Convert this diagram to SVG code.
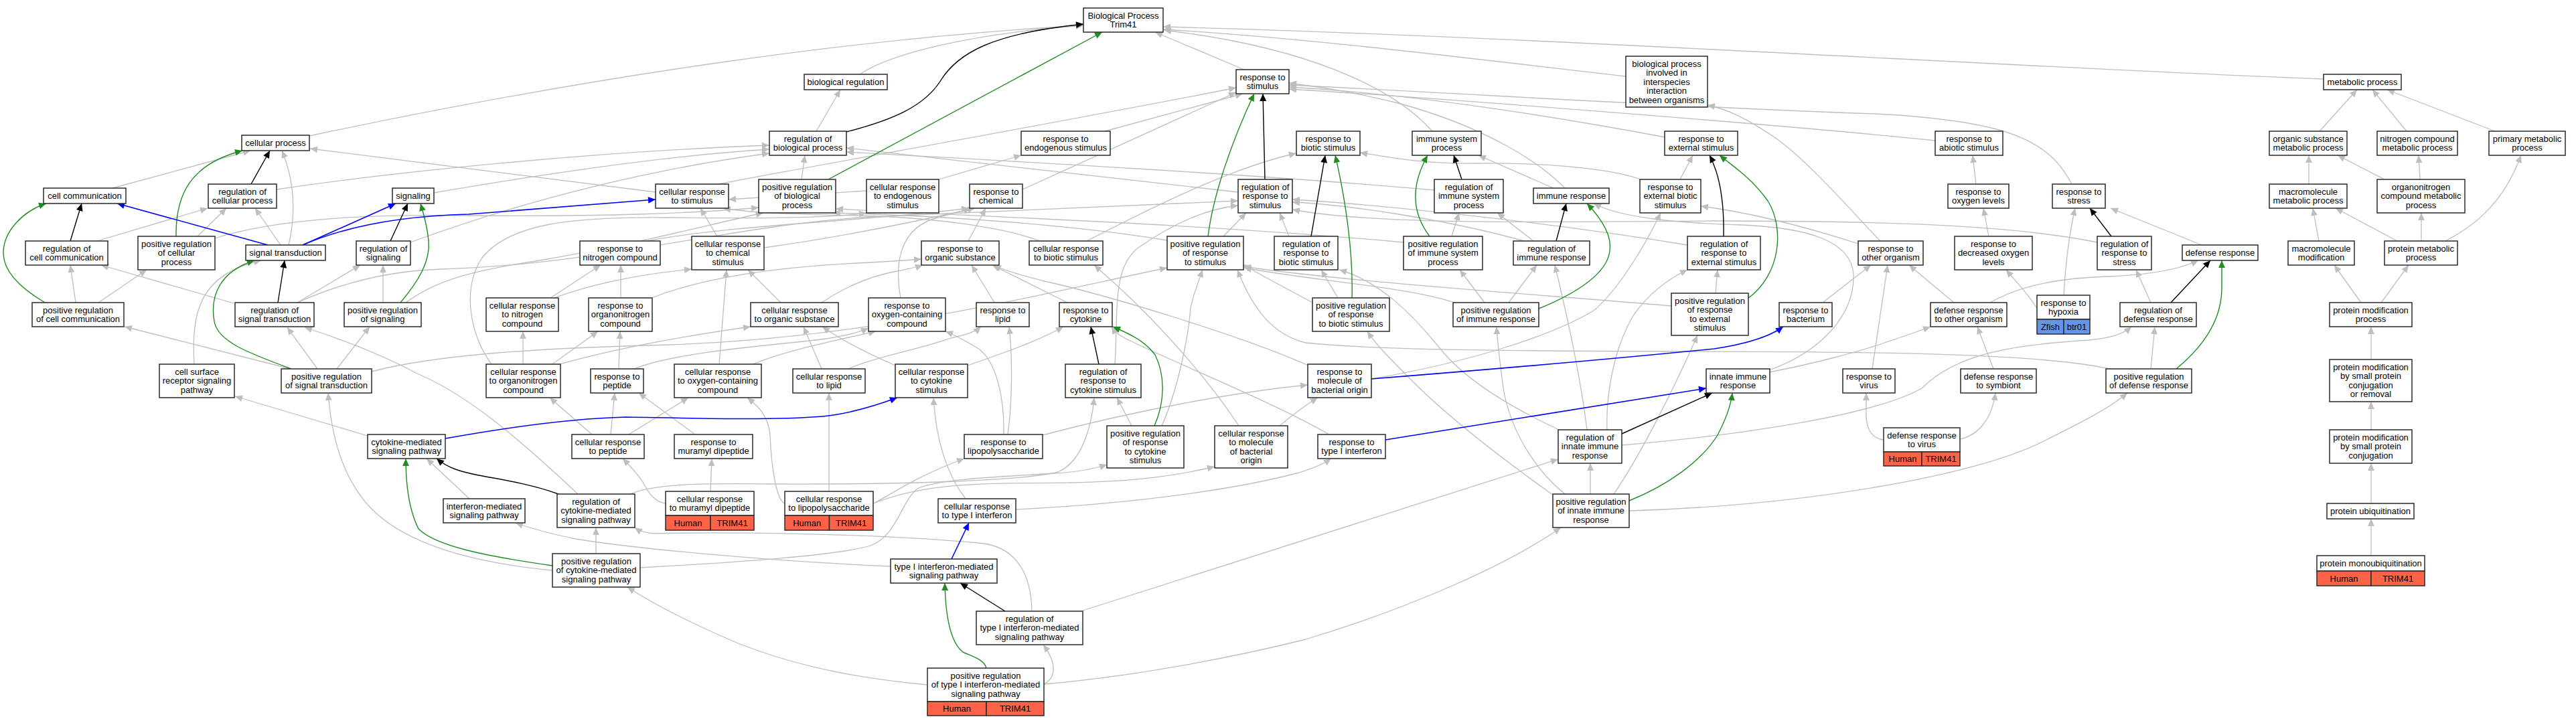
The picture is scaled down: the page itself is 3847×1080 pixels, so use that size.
<svg xmlns="http://www.w3.org/2000/svg" width="3847" height="1080" viewBox="0 0 3847 1080">
<style>
.n rect{fill:#fff;stroke:#2a2a2a;stroke-width:1.5}
.n rect.hu{fill:#ff6347}
.n rect.zf{fill:#6495ed}
text{font-family:"Liberation Sans",Arial,sans-serif;font-size:13px;text-anchor:middle;fill:#000}
.e path{fill:none}
.g{stroke:#bebebe;stroke-width:1.3;marker-end:url(#mg)}
.k{stroke:#000;stroke-width:1.4;marker-end:url(#mk)}
.gr{stroke:#228b22;stroke-width:1.4;marker-end:url(#mgr)}
.b{stroke:#0000ff;stroke-width:1.6;marker-end:url(#mb)}
</style>
<defs>
<marker id="mg" viewBox="0 0 10 10" refX="10" refY="5" markerWidth="13" markerHeight="11" markerUnits="userSpaceOnUse" orient="auto"><path d="M0,0.5 L10,5 L0,9.5 z" fill="#bebebe"/></marker>
<marker id="mk" viewBox="0 0 10 10" refX="10" refY="5" markerWidth="13" markerHeight="11" markerUnits="userSpaceOnUse" orient="auto"><path d="M0,0.5 L10,5 L0,9.5 z" fill="#000"/></marker>
<marker id="mgr" viewBox="0 0 10 10" refX="10" refY="5" markerWidth="13" markerHeight="11" markerUnits="userSpaceOnUse" orient="auto"><path d="M0,0.5 L10,5 L0,9.5 z" fill="#228b22"/></marker>
<marker id="mb" viewBox="0 0 10 10" refX="10" refY="5" markerWidth="13" markerHeight="11" markerUnits="userSpaceOnUse" orient="auto"><path d="M0,0.5 L10,5 L0,9.5 z" fill="#0000ff"/></marker>
</defs>
<rect width="3847" height="1080" fill="#fff"/>
<g id="connectors" class="e">
<path class="g" d="M1284,111 C1330,80 1450,50 1618,38"/>
<path class="g" d="M3470,118 C3000,100 2300,55 1737,40"/>
<path class="g" d="M1858,104 L1725,48"/>
<path class="g" d="M2428,114 C2200,88 1950,56 1737,44"/>
<path class="g" d="M462,203 C900,110 1300,55 1618,38"/>
<path class="g" d="M2139,196 C2080,130 1950,70 1738,45"/>
<path class="g" d="M1219,196 L1255,134"/>
<path class="g" d="M168,281 L374,225"/>
<path class="g" d="M295,353 L338,311"/>
<path class="g" d="M320,356 C420,325 560,320 700,322 C900,324 1050,318 1133,310"/>
<path class="g" d="M1197,268 L1202,232"/>
<path class="g" d="M979,287 L463,222"/>
<path class="g" d="M1073,275 C1200,250 1600,180 1846,131"/>
<path class="g" d="M431,366 C442,320 440,270 421,225"/>
<path class="g" d="M419,366 L381,311"/>
<path class="g" d="M648,288 C800,262 1000,232 1149,223"/>
<path class="g" d="M413,283 C600,255 900,226 1149,217"/>
<path class="g" d="M145,360 L310,311"/>
<path class="g" d="M613,362 C700,330 900,262 1149,229"/>
<path class="g" d="M113,452 L105,396"/>
<path class="g" d="M147,452 L219,403"/>
<path class="g" d="M572,452 L572,396"/>
<path class="g" d="M606,452 C650,420 700,405 800,390 C950,365 1060,335 1140,318"/>
<path class="g" d="M349,453 L151,396"/>
<path class="g" d="M444,452 L538,396"/>
<path class="g" d="M444,452 C520,418 590,404 660,402 C900,395 1100,335 1300,324 C1500,314 1700,305 1849,300"/>
<path class="g" d="M474,551 L429,489"/>
<path class="g" d="M434,551 L186,488"/>
<path class="g" d="M503,551 L552,488"/>
<path class="g" d="M555,555 C650,530 800,520 1000,515 C1300,505 1550,440 1743,400"/>
<path class="g" d="M290,544 C286,470 295,410 390,389"/>
<path class="g" d="M549,651 L351,592"/>
<path class="g" d="M863,738 C780,660 700,590 623,558 C580,535 520,510 455,489"/>
<path class="g" d="M941,738 C980,722 1050,722 1150,723 C1350,724 1530,718 1580,705 C1615,690 1630,640 1634,594"/>
<path class="g" d="M701,745 L637,685"/>
<path class="g" d="M890,827 L890,788"/>
<path class="g" d="M825,852 C700,840 600,810 550,755 C510,710 495,650 490,587"/>
<path class="g" d="M956,848 C1100,840 1250,830 1300,815 C1340,800 1345,750 1370,730 C1400,715 1500,712 1575,707 C1610,705 1635,700 1653,694"/>
<path class="g" d="M1330,846 C1150,838 950,820 860,805 C820,797 795,790 770,781"/>
<path class="g" d="M1541,913 C1540,860 1520,820 1470,812 C1300,795 1050,795 980,797 C965,797 955,793 948,788"/>
<path class="g" d="M1617,912 L2327,686"/>
<path class="g" d="M1559,1022 C1578,1012 1578,990 1558,963"/>
<path class="g" d="M1385,1023 C1300,1015 1200,1000 1100,960 C1030,930 980,905 937,877"/>
<path class="g" d="M1559,1022 C1700,1010 1850,980 1950,955 C2100,910 2250,845 2331,788"/>
<path class="g" d="M1442,745 C1415,710 1398,660 1394,594"/>
<path class="g" d="M1517,761 C1700,752 1850,730 1940,706 C1960,700 1978,692 1988,685"/>
<path class="g" d="M1985,649 C1900,600 1750,540 1690,510 C1672,502 1665,496 1660,488"/>
<path class="g" d="M1954,546 C1850,500 1650,440 1560,420 C1520,410 1500,404 1484,396"/>
<path class="g" d="M2048,566 C2200,540 2320,500 2380,464 C2420,430 2460,360 2480,318"/>
<path class="g" d="M1911,636 C1930,620 1950,605 1968,594"/>
<path class="g" d="M1850,636 C1800,560 1720,470 1634,396"/>
<path class="g" d="M1304,752 C1330,740 1360,715 1440,685"/>
<path class="g" d="M1304,752 C1380,722 1450,722 1600,721 C1700,719 1760,710 1814,697"/>
<path class="g" d="M1238,734 L1238,587"/>
<path class="g" d="M1172,752 C1160,748 1152,700 1150,650 C1148,620 1130,605 1116,594"/>
<path class="g" d="M1499,649 C1500,600 1490,540 1460,520 C1440,508 1425,500 1412,495"/>
<path class="g" d="M1505,649 C1512,600 1512,530 1507,488"/>
<path class="g" d="M1557,650 C1700,612 1850,585 1953,575"/>
<path class="g" d="M1061,734 L1063,685"/>
<path class="g" d="M994,752 C980,750 970,740 960,720 C950,705 940,695 930,685"/>
<path class="g" d="M1038,649 L954,587"/>
<path class="g" d="M884,649 L821,594"/>
<path class="g" d="M912,649 L918,587"/>
<path class="g" d="M939,649 L1028,594"/>
<path class="g" d="M781,544 L781,495"/>
<path class="g" d="M822,546 L893,495"/>
<path class="g" d="M822,548 C900,525 1000,505 1121,488"/>
<path class="g" d="M737,548 C700,500 690,430 720,385 C760,335 850,323 1000,325 C1150,327 1250,325 1294,318"/>
<path class="g" d="M924,551 L926,495"/>
<path class="g" d="M947,551 C1000,530 1100,520 1200,510 C1250,505 1280,498 1297,490"/>
<path class="g" d="M1074,544 L1085,403"/>
<path class="g" d="M1124,544 C1180,522 1250,508 1308,495"/>
<path class="g" d="M1227,551 L1200,488"/>
<path class="g" d="M1267,551 C1300,535 1380,520 1420,505 C1440,500 1455,497 1465,488"/>
<path class="g" d="M1337,546 C1300,530 1260,510 1228,488"/>
<path class="g" d="M1445,546 C1490,530 1550,510 1588,488"/>
<path class="g" d="M1345,445 C1335,390 1345,340 1400,325 C1420,320 1435,316 1450,311"/>
<path class="g" d="M1485,452 L1451,396"/>
<path class="g" d="M1594,452 L1482,396"/>
<path class="g" d="M927,445 L927,396"/>
<path class="g" d="M973,445 C1050,415 1150,400 1280,393 C1320,391 1350,389 1376,387"/>
<path class="g" d="M1227,452 C1260,430 1300,412 1340,405 C1355,402 1366,400 1378,396"/>
<path class="g" d="M1166,452 L1117,403"/>
<path class="g" d="M822,445 L897,396"/>
<path class="g" d="M822,447 C880,425 950,410 1033,402"/>
<path class="g" d="M966,360 C1100,335 1300,330 1447,311"/>
<path class="g" d="M1141,370 C1250,355 1350,335 1456,311"/>
<path class="g" d="M1071,353 L1046,311"/>
<path class="g" d="M1446,360 L1472,311"/>
<path class="g" d="M1294,285 L1088,298"/>
<path class="g" d="M1402,268 L1525,232"/>
<path class="g" d="M1650,196 L1856,140"/>
<path class="g" d="M1527,283 L1846,138"/>
<path class="g" d="M1553,360 C1500,340 1400,325 1280,322 C1180,320 1120,318 1080,311"/>
<path class="g" d="M1623,360 C1720,310 1840,250 1936,229"/>
<path class="g" d="M1849,287 L1264,221"/>
<path class="g" d="M2142,284 C1900,262 1500,240 1264,227"/>
<path class="g" d="M1827,353 L1861,318"/>
<path class="g" d="M1743,359 C1600,335 1400,322 1244,318"/>
<path class="g" d="M2096,362 C1800,335 1500,325 1248,312"/>
<path class="g" d="M2168,353 L2179,318"/>
<path class="g" d="M2290,360 L2236,318"/>
<path class="g" d="M2276,360 C2150,325 2000,305 1930,302"/>
<path class="g" d="M2253,452 L2295,396"/>
<path class="g" d="M2217,452 L2180,403"/>
<path class="g" d="M2172,452 C2100,428 1950,418 1858,400"/>
<path class="g" d="M1925,353 L1911,318"/>
<path class="g" d="M1998,445 L1973,403"/>
<path class="g" d="M1960,452 C1920,430 1880,410 1857,395"/>
<path class="g" d="M2330,643 C2260,610 2190,570 2150,520 C2110,470 2060,420 2000,403"/>
<path class="g" d="M2370,642 C2360,560 2340,470 2322,396"/>
<path class="g" d="M2400,642 C2398,590 2410,520 2440,470 C2465,435 2495,415 2520,403"/>
<path class="g" d="M2422,665 C2600,650 2800,620 2870,580 C2920,530 3000,515 3120,508 C3150,505 3170,500 3183,488"/>
<path class="g" d="M2375,738 L2375,692"/>
<path class="g" d="M2337,738 C2290,700 2255,640 2245,580 C2240,540 2236,510 2235,488"/>
<path class="g" d="M2320,740 C2250,690 2170,630 2110,570 C2080,540 2055,515 2042,495"/>
<path class="g" d="M2410,738 C2450,680 2500,580 2535,501"/>
<path class="g" d="M2433,763 C2700,755 2950,710 3050,660 C3110,630 3150,610 3177,587"/>
<path class="g" d="M2642,553 C2720,525 2770,470 2768,410 C2765,360 2700,340 2600,336 C2500,333 2420,325 2380,304"/>
<path class="g" d="M2642,556 C2700,545 2780,525 2820,510 C2845,502 2862,496 2883,488"/>
<path class="g" d="M2520,366 C2300,330 2050,305 1930,298"/>
<path class="g" d="M2562,438 L2565,403"/>
<path class="g" d="M2496,457 C2300,440 2000,420 1857,398"/>
<path class="g" d="M2509,268 L2528,232"/>
<path class="g" d="M2450,268 C2400,250 2300,243 2200,244 C2130,245 2080,236 2031,228"/>
<path class="g" d="M2487,205 C2300,170 2100,140 1925,130"/>
<path class="g" d="M2890,210 C2700,190 2200,150 1925,133"/>
<path class="g" d="M3094,275 C3060,210 3000,180 2800,170 C2500,160 2200,140 1925,127"/>
<path class="g" d="M2337,281 C2300,243 2220,190 2088,154 C2020,137 1970,130 1925,124"/>
<path class="g" d="M2320,281 L2208,232"/>
<path class="g" d="M2808,360 C2760,310 2700,240 2650,205 C2610,178 2580,163 2550,157"/>
<path class="g" d="M2775,364 C2700,340 2620,318 2540,308"/>
<path class="g" d="M2722,452 L2794,396"/>
<path class="g" d="M2796,551 L2819,396"/>
<path class="g" d="M2918,452 L2851,396"/>
<path class="g" d="M2972,452 C3020,425 3080,415 3150,413 C3220,410 3260,400 3283,389"/>
<path class="g" d="M2977,551 L2953,488"/>
<path class="g" d="M2813,657 C2795,655 2787,640 2787,620 L2787,587"/>
<path class="g" d="M2927,656 C2955,650 2975,625 2980,587"/>
<path class="g" d="M2970,353 L2962,311"/>
<path class="g" d="M2951,275 L2946,232"/>
<path class="g" d="M3042,461 C3030,440 3010,420 2996,403"/>
<path class="g" d="M3082,441 C3085,390 3090,350 3099,311"/>
<path class="g" d="M3288,366 L3152,311"/>
<path class="g" d="M3132,362 C3000,335 2800,330 2560,330 C2300,332 2050,336 1930,313"/>
<path class="g" d="M3212,452 L3190,403"/>
<path class="g" d="M3212,551 L3218,488"/>
<path class="g" d="M3150,551 C3050,528 2800,525 2500,525 C2200,524 2050,522 1950,512 C1900,500 1870,460 1848,403"/>
<path class="g" d="M3464,196 L3520,134"/>
<path class="g" d="M3594,196 L3543,134"/>
<path class="g" d="M3726,196 L3565,134"/>
<path class="g" d="M3448,275 L3448,232"/>
<path class="g" d="M3561,268 L3491,232"/>
<path class="g" d="M3614,268 L3612,232"/>
<path class="g" d="M3652,360 C3700,335 3740,300 3765,232"/>
<path class="g" d="M3463,360 L3454,311"/>
<path class="g" d="M3580,360 L3488,311"/>
<path class="g" d="M3616,360 L3616,318"/>
<path class="g" d="M3526,452 L3486,396"/>
<path class="g" d="M3556,452 L3597,396"/>
<path class="g" d="M3541,537 L3541,488"/>
<path class="g" d="M3541,642 L3541,600"/>
<path class="g" d="M3541,752 L3541,692"/>
<path class="g" d="M3541,830 L3541,775"/>
<path class="g" d="M1690,636 L1668,594"/>
<path class="g" d="M1735,636 C1760,580 1775,500 1778,460 C1782,440 1790,420 1796,403"/>
<path class="g" d="M1665,544 C1670,470 1660,400 1700,370 C1750,335 1800,312 1849,307"/>
<path class="k" d="M1264,197 C1330,180 1380,160 1405,120 C1430,80 1480,50 1618,36"/>
<path class="k" d="M375,275 L403,225"/>
<path class="k" d="M105,360 L122,304"/>
<path class="k" d="M583,360 L609,304"/>
<path class="k" d="M415,452 L425,389"/>
<path class="k" d="M834,738 C790,722 740,715 715,710 C690,705 670,700 652,685"/>
<path class="k" d="M1501,913 L1434,871"/>
<path class="k" d="M1889,268 L1886,140"/>
<path class="k" d="M1958,353 L1979,232"/>
<path class="k" d="M2183,268 L2171,232"/>
<path class="k" d="M2324,360 L2339,304"/>
<path class="k" d="M2574,353 C2575,300 2568,260 2553,232"/>
<path class="k" d="M1641,544 L1629,488"/>
<path class="k" d="M2422,648 L2557,587"/>
<path class="k" d="M3153,353 L3121,311"/>
<path class="k" d="M3242,452 L3301,389"/>
<path class="gr" d="M1237,268 L1646,48"/>
<path class="gr" d="M263,353 C262,290 285,245 362,225"/>
<path class="gr" d="M67,452 C30,430 5,405 5,378 C5,345 35,315 69,304"/>
<path class="gr" d="M598,452 C625,420 643,390 640,360 C638,335 632,318 628,304"/>
<path class="gr" d="M435,551 C370,527 325,510 320,480 C313,440 330,405 380,389"/>
<path class="gr" d="M825,845 C720,830 650,815 625,790 C610,760 606,720 606,685"/>
<path class="gr" d="M1473,998 C1470,985 1450,980 1438,974 C1420,960 1412,920 1411,871"/>
<path class="gr" d="M1804,353 C1812,290 1840,210 1873,140"/>
<path class="gr" d="M2019,445 C2021,380 2010,300 1994,232"/>
<path class="gr" d="M2135,353 C2110,320 2105,280 2132,232"/>
<path class="gr" d="M2298,461 C2350,440 2400,410 2404,375 C2408,350 2390,325 2370,304"/>
<path class="gr" d="M2610,446 C2660,410 2665,340 2640,300 C2615,265 2590,250 2568,232"/>
<path class="gr" d="M1724,636 C1740,600 1740,560 1725,530 C1710,510 1690,500 1662,488"/>
<path class="gr" d="M2433,748 C2490,725 2540,690 2565,650 C2578,625 2585,605 2587,587"/>
<path class="gr" d="M3250,551 C3300,510 3318,470 3318,430 L3318,389"/>
<path class="b" d="M400,366 L175,304"/>
<path class="b" d="M452,366 L591,304"/>
<path class="b" d="M452,366 C530,332 620,322 700,320 L979,298"/>
<path class="b" d="M665,655 C760,638 850,625 935,623 C1050,625 1150,628 1229,622 C1270,618 1310,605 1340,594"/>
<path class="b" d="M1421,835 L1447,781"/>
<path class="b" d="M2069,657 L2548,580"/>
<path class="b" d="M2048,566 C2250,550 2450,532 2560,521 C2600,515 2640,505 2663,488"/>
</g>
<g id="n1" class="n"><rect x="1618" y="12" width="119" height="36"/><text><tspan x="1677.5" y="28">Biological Process</tspan><tspan x="1677.5" y="41.4">Trim41</tspan></text></g>
<g id="n2" class="n"><rect x="1201" y="111" width="124" height="23"/><text><tspan x="1263" y="127">biological regulation</tspan></text></g>
<g id="n3" class="n"><rect x="3470" y="111" width="116" height="23"/><text><tspan x="3528" y="127">metabolic process</tspan></text></g>
<g id="n4" class="n"><rect x="1846" y="104" width="79" height="36"/><text><tspan x="1885.5" y="120">response to</tspan><tspan x="1885.5" y="133.4">stimulus</tspan></text></g>
<g id="n5" class="n"><rect x="2428" y="84" width="122" height="76"/><text><tspan x="2489" y="100">biological process</tspan><tspan x="2489" y="113.4">involved in</tspan><tspan x="2489" y="126.8">interspecies</tspan><tspan x="2489" y="140.2">interaction</tspan><tspan x="2489" y="153.6">between organisms</tspan></text></g>
<g id="n6" class="n"><rect x="361" y="202" width="101" height="23"/><text><tspan x="411.5" y="218">cellular process</tspan></text></g>
<g id="n7" class="n"><rect x="1149" y="196" width="115" height="36"/><text><tspan x="1206.5" y="212">regulation of</tspan><tspan x="1206.5" y="225.4">biological process</tspan></text></g>
<g id="n8" class="n"><rect x="1525" y="196" width="133" height="36"/><text><tspan x="1591.5" y="212">response to</tspan><tspan x="1591.5" y="225.4">endogenous stimulus</tspan></text></g>
<g id="n9" class="n"><rect x="1936" y="196" width="95" height="36"/><text><tspan x="1983.5" y="212">response to</tspan><tspan x="1983.5" y="225.4">biotic stimulus</tspan></text></g>
<g id="n10" class="n"><rect x="2109" y="196" width="103" height="36"/><text><tspan x="2160.5" y="212">immune system</tspan><tspan x="2160.5" y="225.4">process</tspan></text></g>
<g id="n11" class="n"><rect x="2486" y="196" width="109" height="36"/><text><tspan x="2540.5" y="212">response to</tspan><tspan x="2540.5" y="225.4">external stimulus</tspan></text></g>
<g id="n12" class="n"><rect x="2890" y="196" width="101" height="36"/><text><tspan x="2940.5" y="212">response to</tspan><tspan x="2940.5" y="225.4">abiotic stimulus</tspan></text></g>
<g id="n13" class="n"><rect x="3389" y="196" width="116" height="36"/><text><tspan x="3447" y="212">organic substance</tspan><tspan x="3447" y="225.4">metabolic process</tspan></text></g>
<g id="n14" class="n"><rect x="3550" y="196" width="120" height="36"/><text><tspan x="3610" y="212">nitrogen compound</tspan><tspan x="3610" y="225.4">metabolic process</tspan></text></g>
<g id="n15" class="n"><rect x="3717" y="196" width="114" height="36"/><text><tspan x="3774" y="212">primary metabolic</tspan><tspan x="3774" y="225.4">process</tspan></text></g>
<g id="n16" class="n"><rect x="65" y="281" width="123" height="23"/><text><tspan x="126.5" y="297">cell communication</tspan></text></g>
<g id="n17" class="n"><rect x="311" y="275" width="102" height="36"/><text><tspan x="362" y="291">regulation of</tspan><tspan x="362" y="304.4">cellular process</tspan></text></g>
<g id="n18" class="n"><rect x="586" y="281" width="62" height="23"/><text><tspan x="617" y="297">signaling</tspan></text></g>
<g id="n19" class="n"><rect x="979" y="275" width="109" height="36"/><text><tspan x="1033.5" y="291">cellular response</tspan><tspan x="1033.5" y="304.4">to stimulus</tspan></text></g>
<g id="n20" class="n"><rect x="1133" y="268" width="115" height="50"/><text><tspan x="1190.5" y="284">positive regulation</tspan><tspan x="1190.5" y="297.4">of biological</tspan><tspan x="1190.5" y="310.8">process</tspan></text></g>
<g id="n21" class="n"><rect x="1294" y="268" width="108" height="50"/><text><tspan x="1348" y="284">cellular response</tspan><tspan x="1348" y="297.4">to endogenous</tspan><tspan x="1348" y="310.8">stimulus</tspan></text></g>
<g id="n22" class="n"><rect x="1448" y="275" width="79" height="36"/><text><tspan x="1487.5" y="291">response to</tspan><tspan x="1487.5" y="304.4">chemical</tspan></text></g>
<g id="n23" class="n"><rect x="1849" y="268" width="81" height="50"/><text><tspan x="1889.5" y="284">regulation of</tspan><tspan x="1889.5" y="297.4">response to</tspan><tspan x="1889.5" y="310.8">stimulus</tspan></text></g>
<g id="n24" class="n"><rect x="2142" y="268" width="103" height="50"/><text><tspan x="2193.5" y="284">regulation of</tspan><tspan x="2193.5" y="297.4">immune system</tspan><tspan x="2193.5" y="310.8">process</tspan></text></g>
<g id="n25" class="n"><rect x="2290" y="281" width="113" height="23"/><text><tspan x="2346.5" y="297">immune response</tspan></text></g>
<g id="n26" class="n"><rect x="2449" y="268" width="91" height="50"/><text><tspan x="2494.5" y="284">response to</tspan><tspan x="2494.5" y="297.4">external biotic</tspan><tspan x="2494.5" y="310.8">stimulus</tspan></text></g>
<g id="n27" class="n"><rect x="2909" y="275" width="91" height="36"/><text><tspan x="2954.5" y="291">response to</tspan><tspan x="2954.5" y="304.4">oxygen levels</tspan></text></g>
<g id="n28" class="n"><rect x="3065" y="275" width="79" height="36"/><text><tspan x="3104.5" y="291">response to</tspan><tspan x="3104.5" y="304.4">stress</tspan></text></g>
<g id="n29" class="n"><rect x="3389" y="275" width="116" height="36"/><text><tspan x="3447" y="291">macromolecule</tspan><tspan x="3447" y="304.4">metabolic process</tspan></text></g>
<g id="n30" class="n"><rect x="3550" y="268" width="131" height="50"/><text><tspan x="3615.5" y="284">organonitrogen</tspan><tspan x="3615.5" y="297.4">compound metabolic</tspan><tspan x="3615.5" y="310.8">process</tspan></text></g>
<g id="n31" class="n"><rect x="38" y="360" width="123" height="36"/><text><tspan x="99.5" y="376">regulation of</tspan><tspan x="99.5" y="389.4">cell communication</tspan></text></g>
<g id="n32" class="n"><rect x="206" y="353" width="115" height="50"/><text><tspan x="263.5" y="369">positive regulation</tspan><tspan x="263.5" y="382.4">of cellular</tspan><tspan x="263.5" y="395.8">process</tspan></text></g>
<g id="n33" class="n"><rect x="367" y="366" width="119" height="23"/><text><tspan x="426.5" y="382">signal transduction</tspan></text></g>
<g id="n34" class="n"><rect x="532" y="360" width="81" height="36"/><text><tspan x="572.5" y="376">regulation of</tspan><tspan x="572.5" y="389.4">signaling</tspan></text></g>
<g id="n35" class="n"><rect x="866" y="360" width="120" height="36"/><text><tspan x="926" y="376">response to</tspan><tspan x="926" y="389.4">nitrogen compound</tspan></text></g>
<g id="n36" class="n"><rect x="1033" y="353" width="108" height="50"/><text><tspan x="1087" y="369">cellular response</tspan><tspan x="1087" y="382.4">to chemical</tspan><tspan x="1087" y="395.8">stimulus</tspan></text></g>
<g id="n37" class="n"><rect x="1376" y="360" width="116" height="36"/><text><tspan x="1434" y="376">response to</tspan><tspan x="1434" y="389.4">organic substance</tspan></text></g>
<g id="n38" class="n"><rect x="1537" y="360" width="110" height="36"/><text><tspan x="1592" y="376">cellular response</tspan><tspan x="1592" y="389.4">to biotic stimulus</tspan></text></g>
<g id="n39" class="n"><rect x="1743" y="353" width="114" height="50"/><text><tspan x="1800" y="369">positive regulation</tspan><tspan x="1800" y="382.4">of response</tspan><tspan x="1800" y="395.8">to stimulus</tspan></text></g>
<g id="n40" class="n"><rect x="1903" y="353" width="95" height="50"/><text><tspan x="1950.5" y="369">regulation of</tspan><tspan x="1950.5" y="382.4">response to</tspan><tspan x="1950.5" y="395.8">biotic stimulus</tspan></text></g>
<g id="n41" class="n"><rect x="2096" y="353" width="118" height="50"/><text><tspan x="2155" y="369">positive regulation</tspan><tspan x="2155" y="382.4">of immune system</tspan><tspan x="2155" y="395.8">process</tspan></text></g>
<g id="n42" class="n"><rect x="2260" y="360" width="114" height="36"/><text><tspan x="2317" y="376">regulation of</tspan><tspan x="2317" y="389.4">immune response</tspan></text></g>
<g id="n43" class="n"><rect x="2520" y="353" width="109" height="50"/><text><tspan x="2574.5" y="369">regulation of</tspan><tspan x="2574.5" y="382.4">response to</tspan><tspan x="2574.5" y="395.8">external stimulus</tspan></text></g>
<g id="n44" class="n"><rect x="2775" y="360" width="97" height="36"/><text><tspan x="2823.5" y="376">response to</tspan><tspan x="2823.5" y="389.4">other organism</tspan></text></g>
<g id="n45" class="n"><rect x="2919" y="353" width="116" height="50"/><text><tspan x="2977" y="369">response to</tspan><tspan x="2977" y="382.4">decreased oxygen</tspan><tspan x="2977" y="395.8">levels</tspan></text></g>
<g id="n46" class="n"><rect x="3132" y="353" width="81" height="50"/><text><tspan x="3172.5" y="369">regulation of</tspan><tspan x="3172.5" y="382.4">response to</tspan><tspan x="3172.5" y="395.8">stress</tspan></text></g>
<g id="n47" class="n"><rect x="3259" y="366" width="113" height="23"/><text><tspan x="3315.5" y="382">defense response</tspan></text></g>
<g id="n48" class="n"><rect x="3417" y="360" width="99" height="36"/><text><tspan x="3466.5" y="376">macromolecule</tspan><tspan x="3466.5" y="389.4">modification</tspan></text></g>
<g id="n49" class="n"><rect x="3561" y="360" width="109" height="36"/><text><tspan x="3615.5" y="376">protein metabolic</tspan><tspan x="3615.5" y="389.4">process</tspan></text></g>
<g id="n50" class="n"><rect x="48" y="452" width="137" height="36"/><text><tspan x="116.5" y="468">positive regulation</tspan><tspan x="116.5" y="481.4">of cell communication</tspan></text></g>
<g id="n51" class="n"><rect x="351" y="452" width="118" height="36"/><text><tspan x="410" y="468">regulation of</tspan><tspan x="410" y="481.4">signal transduction</tspan></text></g>
<g id="n52" class="n"><rect x="514" y="452" width="115" height="36"/><text><tspan x="571.5" y="468">positive regulation</tspan><tspan x="571.5" y="481.4">of signaling</tspan></text></g>
<g id="n53" class="n"><rect x="726" y="445" width="108" height="50"/><text><tspan x="780" y="461">cellular response</tspan><tspan x="780" y="474.4">to nitrogen</tspan><tspan x="780" y="487.8">compound</tspan></text></g>
<g id="n54" class="n"><rect x="879" y="445" width="95" height="50"/><text><tspan x="926.5" y="461">response to</tspan><tspan x="926.5" y="474.4">organonitrogen</tspan><tspan x="926.5" y="487.8">compound</tspan></text></g>
<g id="n55" class="n"><rect x="1121" y="452" width="131" height="36"/><text><tspan x="1186.5" y="468">cellular response</tspan><tspan x="1186.5" y="481.4">to organic substance</tspan></text></g>
<g id="n56" class="n"><rect x="1297" y="445" width="115" height="50"/><text><tspan x="1354.5" y="461">response to</tspan><tspan x="1354.5" y="474.4">oxygen-containing</tspan><tspan x="1354.5" y="487.8">compound</tspan></text></g>
<g id="n57" class="n"><rect x="1458" y="452" width="79" height="36"/><text><tspan x="1497.5" y="468">response to</tspan><tspan x="1497.5" y="481.4">lipid</tspan></text></g>
<g id="n58" class="n"><rect x="1582" y="452" width="79" height="36"/><text><tspan x="1621.5" y="468">response to</tspan><tspan x="1621.5" y="481.4">cytokine</tspan></text></g>
<g id="n59" class="n"><rect x="1960" y="445" width="115" height="50"/><text><tspan x="2017.5" y="461">positive regulation</tspan><tspan x="2017.5" y="474.4">of response</tspan><tspan x="2017.5" y="487.8">to biotic stimulus</tspan></text></g>
<g id="n60" class="n"><rect x="2170" y="452" width="128" height="36"/><text><tspan x="2234" y="468">positive regulation</tspan><tspan x="2234" y="481.4">of immune response</tspan></text></g>
<g id="n61" class="n"><rect x="2496" y="438" width="115" height="63"/><text><tspan x="2553.5" y="454">positive regulation</tspan><tspan x="2553.5" y="467.4">of response</tspan><tspan x="2553.5" y="480.8">to external</tspan><tspan x="2553.5" y="494.2">stimulus</tspan></text></g>
<g id="n62" class="n"><rect x="2657" y="452" width="79" height="36"/><text><tspan x="2696.5" y="468">response to</tspan><tspan x="2696.5" y="481.4">bacterium</tspan></text></g>
<g id="n63" class="n"><rect x="2883" y="452" width="114" height="36"/><text><tspan x="2940" y="468">defense response</tspan><tspan x="2940" y="481.4">to other organism</tspan></text></g>
<g id="n64" class="n"><rect x="3042" y="441" width="79" height="36"/><rect class="zf" x="3042" y="477" width="40" height="22"/><rect class="zf" x="3082" y="477" width="39" height="22"/><text><tspan x="3081.5" y="457">response to</tspan><tspan x="3081.5" y="470.4">hypoxia</tspan><tspan x="3062" y="492.5">Zfish</tspan><tspan x="3101.5" y="492.5">btr01</tspan></text></g>
<g id="n65" class="n"><rect x="3166" y="452" width="114" height="36"/><text><tspan x="3223" y="468">regulation of</tspan><tspan x="3223" y="481.4">defense response</tspan></text></g>
<g id="n66" class="n"><rect x="3479" y="452" width="123" height="36"/><text><tspan x="3540.5" y="468">protein modification</tspan><tspan x="3540.5" y="481.4">process</tspan></text></g>
<g id="n67" class="n"><rect x="238" y="544" width="112" height="50"/><text><tspan x="294" y="560">cell surface</tspan><tspan x="294" y="573.4">receptor signaling</tspan><tspan x="294" y="586.8">pathway</tspan></text></g>
<g id="n68" class="n"><rect x="420" y="551" width="135" height="36"/><text><tspan x="487.5" y="567">positive regulation</tspan><tspan x="487.5" y="580.4">of signal transduction</tspan></text></g>
<g id="n69" class="n"><rect x="726" y="544" width="111" height="50"/><text><tspan x="781.5" y="560">cellular response</tspan><tspan x="781.5" y="573.4">to organonitrogen</tspan><tspan x="781.5" y="586.8">compound</tspan></text></g>
<g id="n70" class="n"><rect x="882" y="551" width="79" height="36"/><text><tspan x="921.5" y="567">response to</tspan><tspan x="921.5" y="580.4">peptide</tspan></text></g>
<g id="n71" class="n"><rect x="1007" y="544" width="130" height="50"/><text><tspan x="1072" y="560">cellular response</tspan><tspan x="1072" y="573.4">to oxygen-containing</tspan><tspan x="1072" y="586.8">compound</tspan></text></g>
<g id="n72" class="n"><rect x="1184" y="551" width="108" height="36"/><text><tspan x="1238" y="567">cellular response</tspan><tspan x="1238" y="580.4">to lipid</tspan></text></g>
<g id="n73" class="n"><rect x="1337" y="544" width="108" height="50"/><text><tspan x="1391" y="560">cellular response</tspan><tspan x="1391" y="573.4">to cytokine</tspan><tspan x="1391" y="586.8">stimulus</tspan></text></g>
<g id="n74" class="n"><rect x="1591" y="544" width="113" height="50"/><text><tspan x="1647.5" y="560">regulation of</tspan><tspan x="1647.5" y="573.4">response to</tspan><tspan x="1647.5" y="586.8">cytokine stimulus</tspan></text></g>
<g id="n75" class="n"><rect x="1953" y="544" width="95" height="50"/><text><tspan x="2000.5" y="560">response to</tspan><tspan x="2000.5" y="573.4">molecule of</tspan><tspan x="2000.5" y="586.8">bacterial origin</tspan></text></g>
<g id="n76" class="n"><rect x="2548" y="551" width="95" height="36"/><text><tspan x="2595.5" y="567">innate immune</tspan><tspan x="2595.5" y="580.4">response</tspan></text></g>
<g id="n77" class="n"><rect x="2752" y="551" width="78" height="36"/><text><tspan x="2791" y="567">response to</tspan><tspan x="2791" y="580.4">virus</tspan></text></g>
<g id="n78" class="n"><rect x="2928" y="551" width="113" height="36"/><text><tspan x="2984.5" y="567">defense response</tspan><tspan x="2984.5" y="580.4">to symbiont</tspan></text></g>
<g id="n79" class="n"><rect x="3145" y="551" width="128" height="36"/><text><tspan x="3209" y="567">positive regulation</tspan><tspan x="3209" y="580.4">of defense response</tspan></text></g>
<g id="n80" class="n"><rect x="3479" y="537" width="123" height="63"/><text><tspan x="3540.5" y="553">protein modification</tspan><tspan x="3540.5" y="566.4">by small protein</tspan><tspan x="3540.5" y="579.8">conjugation</tspan><tspan x="3540.5" y="593.2">or removal</tspan></text></g>
<g id="n81" class="n"><rect x="549" y="649" width="116" height="36"/><text><tspan x="607" y="665">cytokine-mediated</tspan><tspan x="607" y="678.4">signaling pathway</tspan></text></g>
<g id="n82" class="n"><rect x="854" y="649" width="108" height="36"/><text><tspan x="908" y="665">cellular response</tspan><tspan x="908" y="678.4">to peptide</tspan></text></g>
<g id="n83" class="n"><rect x="1007" y="649" width="117" height="36"/><text><tspan x="1065.5" y="665">response to</tspan><tspan x="1065.5" y="678.4">muramyl dipeptide</tspan></text></g>
<g id="n84" class="n"><rect x="1440" y="649" width="117" height="36"/><text><tspan x="1498.5" y="665">response to</tspan><tspan x="1498.5" y="678.4">lipopolysaccharide</tspan></text></g>
<g id="n85" class="n"><rect x="1653" y="636" width="115" height="63"/><text><tspan x="1710.5" y="652">positive regulation</tspan><tspan x="1710.5" y="665.4">of response</tspan><tspan x="1710.5" y="678.8">to cytokine</tspan><tspan x="1710.5" y="692.2">stimulus</tspan></text></g>
<g id="n86" class="n"><rect x="1814" y="636" width="109" height="63"/><text><tspan x="1868.5" y="652">cellular response</tspan><tspan x="1868.5" y="665.4">to molecule</tspan><tspan x="1868.5" y="678.8">of bacterial</tspan><tspan x="1868.5" y="692.2">origin</tspan></text></g>
<g id="n87" class="n"><rect x="1968" y="649" width="101" height="36"/><text><tspan x="2018.5" y="665">response to</tspan><tspan x="2018.5" y="678.4">type I interferon</tspan></text></g>
<g id="n88" class="n"><rect x="2327" y="642" width="95" height="50"/><text><tspan x="2374.5" y="658">regulation of</tspan><tspan x="2374.5" y="671.4">innate immune</tspan><tspan x="2374.5" y="684.8">response</tspan></text></g>
<g id="n89" class="n"><rect x="2813" y="639" width="114" height="36"/><rect class="hu" x="2813" y="675" width="57" height="21"/><rect class="hu" x="2870" y="675" width="57" height="21"/><text><tspan x="2870" y="655">defense response</tspan><tspan x="2870" y="668.4">to virus</tspan><tspan x="2841.5" y="690">Human</tspan><tspan x="2898.5" y="690">TRIM41</tspan></text></g>
<g id="n90" class="n"><rect x="3479" y="642" width="123" height="50"/><text><tspan x="3540.5" y="658">protein modification</tspan><tspan x="3540.5" y="671.4">by small protein</tspan><tspan x="3540.5" y="684.8">conjugation</tspan></text></g>
<g id="n91" class="n"><rect x="662" y="745" width="122" height="36"/><text><tspan x="723" y="761">interferon-mediated</tspan><tspan x="723" y="774.4">signaling pathway</tspan></text></g>
<g id="n92" class="n"><rect x="832" y="738" width="116" height="50"/><text><tspan x="890" y="754">regulation of</tspan><tspan x="890" y="767.4">cytokine-mediated</tspan><tspan x="890" y="780.8">signaling pathway</tspan></text></g>
<g id="n93" class="n"><rect x="994" y="734" width="132" height="36"/><rect class="hu" x="994" y="770" width="67" height="22"/><rect class="hu" x="1061" y="770" width="65" height="22"/><text><tspan x="1060" y="750">cellular response</tspan><tspan x="1060" y="763.4">to muramyl dipeptide</tspan><tspan x="1027.5" y="785.5">Human</tspan><tspan x="1093.5" y="785.5">TRIM41</tspan></text></g>
<g id="n94" class="n"><rect x="1172" y="734" width="132" height="36"/><rect class="hu" x="1172" y="770" width="66.5" height="22"/><rect class="hu" x="1238.5" y="770" width="65.5" height="22"/><text><tspan x="1238" y="750">cellular response</tspan><tspan x="1238" y="763.4">to lipopolysaccharide</tspan><tspan x="1205.2" y="785.5">Human</tspan><tspan x="1271.2" y="785.5">TRIM41</tspan></text></g>
<g id="n95" class="n"><rect x="1401" y="745" width="116" height="36"/><text><tspan x="1459" y="761">cellular response</tspan><tspan x="1459" y="774.4">to type I interferon</tspan></text></g>
<g id="n96" class="n"><rect x="2319" y="738" width="114" height="50"/><text><tspan x="2376" y="754">positive regulation</tspan><tspan x="2376" y="767.4">of innate immune</tspan><tspan x="2376" y="780.8">response</tspan></text></g>
<g id="n97" class="n"><rect x="3475" y="752" width="130" height="23"/><text><tspan x="3540" y="768">protein ubiquitination</tspan></text></g>
<g id="n98" class="n"><rect x="825" y="827" width="131" height="50"/><text><tspan x="890.5" y="843">positive regulation</tspan><tspan x="890.5" y="856.4">of cytokine-mediated</tspan><tspan x="890.5" y="869.8">signaling pathway</tspan></text></g>
<g id="n99" class="n"><rect x="1330" y="835" width="159" height="36"/><text><tspan x="1409.5" y="851">type I interferon-mediated</tspan><tspan x="1409.5" y="864.4">signaling pathway</tspan></text></g>
<g id="n100" class="n"><rect x="3460" y="830" width="161" height="23"/><rect class="hu" x="3460" y="853" width="81" height="22"/><rect class="hu" x="3541" y="853" width="80" height="22"/><text><tspan x="3540.5" y="846">protein monoubiquitination</tspan><tspan x="3500.5" y="868.5">Human</tspan><tspan x="3581" y="868.5">TRIM41</tspan></text></g>
<g id="n101" class="n"><rect x="1458" y="913" width="159" height="50"/><text><tspan x="1537.5" y="929">regulation of</tspan><tspan x="1537.5" y="942.4">type I interferon-mediated</tspan><tspan x="1537.5" y="955.8">signaling pathway</tspan></text></g>
<g id="n102" class="n"><rect x="1385" y="998" width="174" height="50"/><rect class="hu" x="1385" y="1048" width="88" height="21"/><rect class="hu" x="1473" y="1048" width="86" height="21"/><text><tspan x="1472" y="1014">positive regulation</tspan><tspan x="1472" y="1027.4">of type I interferon-mediated</tspan><tspan x="1472" y="1040.8">signaling pathway</tspan><tspan x="1429" y="1063">Human</tspan><tspan x="1516" y="1063">TRIM41</tspan></text></g>
</svg>
